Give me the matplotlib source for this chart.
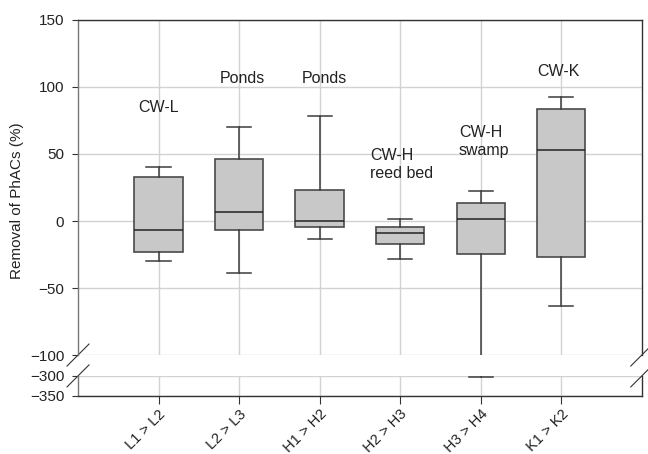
import matplotlib
matplotlib.use("Agg")
import matplotlib.pyplot as plt

plt.rcParams['font.family'] = ['Liberation Sans', 'DejaVu Sans']
plt.rcParams['font.size'] = 11

# removal of pharmaceuticals between sampling points
categories = ["L1 > L2", "L2 > L3", "H1 > H2", "H2 > H3", "H3 > H4", "K1 > K2"]
q1 = [-23.0, -6.9, -4.2, -17.5, -24.5, -26.7]
medians = [-6.4, 6.5, 0.3, -8.6, 1.5, 53.2]
q3 = [33.2, 46.0, 23.3, -4.2, 13.7, 83.7]
whisker_low = [-30.2, -38.9, -13.1, -28.5, -303.0, -63.1]
whisker_high = [40.1, 69.8, 78.3, 1.3, 22.6, 92.9]

# treatment type labels: category index, x shift, baseline of last line, text
note_pos = [0, 1, 2, 3, 4, 5]
note_dx = [0.0, 0.04, 0.06, -0.37, -0.27, -0.04]
note_y = [81.5, 102.8, 103.3, 32.1, 49.5, 108.2]
note_text = ["CW-L", "Ponds", "Ponds", "CW-H\nreed bed", "CW-H\nswamp", "CW-K"]
note_ha = ["center", "center", "center", "left", "left", "center"]

stats = []
for i in range(len(categories)):
    stats.append(dict(med=medians[i], q1=q1[i], q3=q3[i],
                      whislo=whisker_low[i], whishi=whisker_high[i], fliers=[]))

fig = plt.figure(figsize=(6.48, 4.54), dpi=100)
ax_top = fig.add_axes([0.1204, 0.218, 0.870, 0.738])
ax_bot = fig.add_axes([0.1204, 0.128, 0.870, 0.044])

grid_c = "#d2d2d2"
edge_c = "#3c3c3c"
for ax in (ax_top, ax_bot):
    ax.bxp(stats, positions=range(len(categories)), widths=0.6, patch_artist=True,
           showfliers=False,
           boxprops=dict(facecolor="#c8c8c9", edgecolor="#4a4a4a", linewidth=1.2),
           whiskerprops=dict(color=edge_c, linewidth=1.1),
           capprops=dict(color=edge_c, linewidth=1.1),
           medianprops=dict(color="#222222", linewidth=1.1),
           capwidths=0.3)
    ax.set_xlim(-1, 6)
    ax.set_axisbelow(True)
    ax.grid(True, color=grid_c, linewidth=1.0)
    ax.tick_params(direction="out", length=4, width=0.8, color="#333333", pad=6,
                   labelcolor="#222222")
    for s in ax.spines.values():
        s.set_color("#333333")
        s.set_linewidth(1.0)
    ax.spines["left"].set_color("#777777")

ax_top.set_ylim(-100, 150)
ax_top.set_yticks([-100, -50, 0, 50, 100, 150])
ax_top.spines["bottom"].set_visible(False)
ax_top.tick_params(axis="x", length=0, labelbottom=False)
ax_top.set_xticks(range(len(categories)))

ax_bot.set_ylim(-350, -300)
ax_bot.set_yticks([-350, -300])
ax_bot.spines["top"].set_visible(False)
ax_bot.set_xticks(range(len(categories)))
ax_bot.set_xticklabels(categories, rotation=45, ha="right", rotation_mode="anchor",
                       fontsize=10.5)
ax_bot.tick_params(axis="x", length=6, pad=2)

ax_top.set_ylabel("Removal of PhACs (%)", color="#222222")
ax_top.yaxis.set_label_coords(-0.096, 0.46, transform=ax_top.transAxes)

for p, dx, y, t, ha in zip(note_pos, note_dx, note_y, note_text, note_ha):
    ax_top.text(p + dx, y, t, ha=ha, va="baseline", linespacing=1.25, fontsize=11.5,
                color="#222222")

# break marks on both sides of the axis gap
dx = 11 / 564
for ax, y0, dy in ((ax_top, 0, 11 / 335), (ax_bot, 1, 11 / 20)):
    for x0 in (0, 1):
        ax.plot([x0 - dx, x0 + dx], [y0 - dy, y0 + dy], transform=ax.transAxes,
                color="#333333", linewidth=0.8, clip_on=False)

fig.savefig("out.png", dpi=100)
